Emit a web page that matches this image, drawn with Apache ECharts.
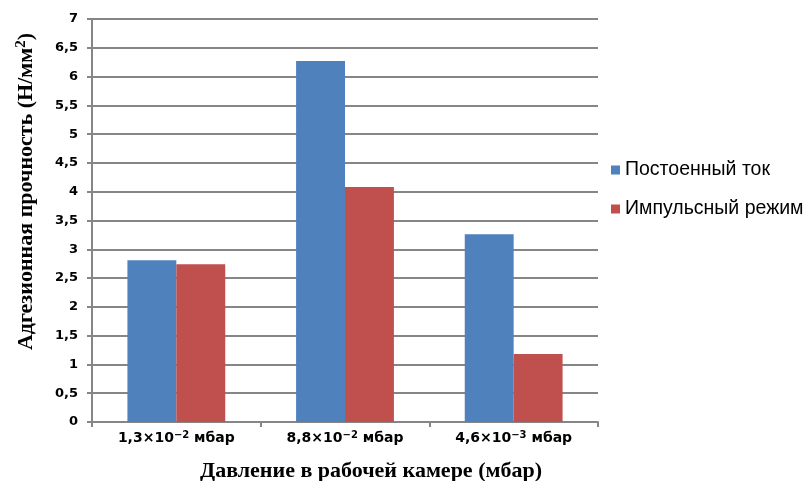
<!DOCTYPE html>
<html>
<head>
<meta charset="utf-8">
<script src="https://cdn.jsdelivr.net/npm/echarts@6/dist/echarts.min.js"></script>
<style>
  html, body { margin: 0; padding: 0; background: #fff; }
  #chart { width: 810px; height: 481px; }
</style>
</head>
<body>
<div id="chart"></div>
<script>
// Pressure levels (mantissa, exponent) and measured adhesion strength
const pressureMantissa = ['1,3', '8,8', '4,6'];
const pressureExponent = ['−2', '−2', '−3'];
const categories = ['p1', 'p2', 'p3'];
const seriesNames = ['Постоенный ток', 'Импульсный режим'];
const dcValues = [2.81, 6.27, 3.26];
const pulseValues = [2.74, 4.08, 1.18];

const gridGray = '#868686';
const chart = echarts.init(document.getElementById('chart'));

chart.setOption({
  animation: false,
  textStyle: { fontFamily: 'DejaVu Sans' },
  grid: { left: 92, right: 212, top: 19, bottom: 59, containLabel: false, outerBoundsMode: 'none' },
  legend: {
    orient: 'vertical',
    left: 606,
    top: 155,
    itemWidth: 9,
    itemHeight: 9,
    itemGap: 19,
    icon: 'rect',
    textStyle: { fontFamily: 'Liberation Sans', fontSize: 19.5, color: '#000' },
    data: seriesNames
  },
  xAxis: {
    type: 'category',
    data: categories,
    name: 'Давление в рабочей камере (мбар)',
    nameLocation: 'middle',
    nameGap: 38,
    nameTextStyle: { fontFamily: 'Liberation Serif', fontWeight: 'bold', fontSize: 22, color: '#000', padding: [0, 0, 0, 52] },
    axisLine: { lineStyle: { color: gridGray, width: 2 } },
    axisTick: { show: true, length: 5, lineStyle: { color: gridGray, width: 2 } },
    axisLabel: {
      interval: 0,
      margin: 8,
      formatter: function (v, i) {
        return '{b|' + pressureMantissa[i] + '×10}{sup|' + pressureExponent[i] + '}{b| мбар}';
      },
      rich: {
        b: { fontFamily: 'DejaVu Sans', fontWeight: 'bold', fontSize: 14, color: '#000' },
        sup: { fontFamily: 'DejaVu Sans', fontWeight: 'bold', fontSize: 10, color: '#000', verticalAlign: 'top', padding: [0, 0, 7, 0] }
      }
    }
  },
  yAxis: {
    type: 'value',
    min: 0,
    max: 7,
    interval: 0.5,
    name: '{t|Адгезионная прочность (Н/мм}{s|2}{t|)}',
    nameLocation: 'middle',
    nameGap: 54,
    nameRotate: 90,
    nameTextStyle: {
      padding: [0, 0, 0, 58],
      rich: {
        t: { fontFamily: 'Liberation Serif', fontWeight: 'bold', fontSize: 22, color: '#000' },
        s: { fontFamily: 'Liberation Serif', fontWeight: 'bold', fontSize: 15, color: '#000', verticalAlign: 'top', padding: [0, 0, 9, 0] }
      }
    },
    axisLine: { show: true, lineStyle: { color: gridGray, width: 2 } },
    axisTick: { show: true, length: 5, lineStyle: { color: gridGray, width: 2 } },
    axisLabel: {
      margin: 14,
      fontFamily: 'DejaVu Sans',
      fontWeight: 'bold',
      fontSize: 13,
      color: '#000',
      formatter: function (v) { return String(v).replace('.', ','); }
    },
    splitLine: { lineStyle: { color: gridGray, width: 2 } }
  },
  series: [
    {
      name: seriesNames[0],
      type: 'bar',
      data: dcValues,
      barGap: '0%',
      barCategoryGap: '42%',
      itemStyle: { color: '#4F81BD' }
    },
    {
      name: seriesNames[1],
      type: 'bar',
      data: pulseValues,
      barGap: '0%',
      barCategoryGap: '42%',
      itemStyle: { color: '#C0504D' }
    }
  ]
});
</script>
</body>
</html>
